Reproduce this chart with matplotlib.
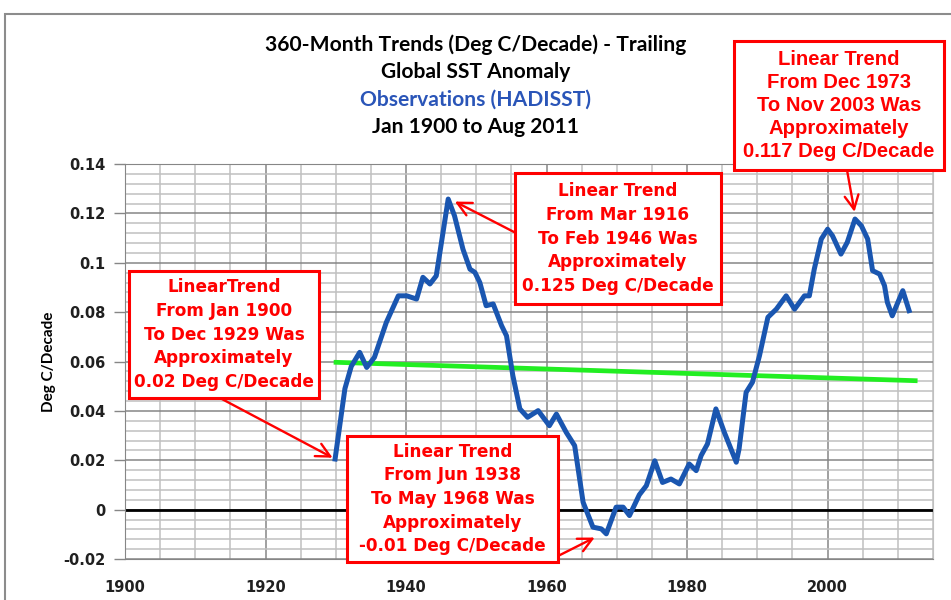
import matplotlib
matplotlib.use("Agg")
import matplotlib.pyplot as plt
from matplotlib.patches import Rectangle
from matplotlib.ticker import MultipleLocator

# 360-month trailing trends (year, deg C / decade)
years = [1929.9, 1931.3, 1932.2, 1933.4, 1934.4, 1935.5, 1937.2, 1938.9, 1940.1, 1941.5,
         1942.4, 1943.4, 1944.3, 1946.0, 1946.9, 1948.1, 1949.1, 1949.8, 1950.5, 1951.4,
         1952.4, 1953.6, 1954.3, 1955.2, 1956.2, 1957.3, 1958.8, 1960.4, 1961.4, 1962.8,
         1964.0, 1965.2, 1966.6, 1967.8, 1968.5, 1969.9, 1970.9, 1971.8, 1973.2, 1974.2,
         1975.4, 1976.5, 1977.7, 1978.9, 1980.3, 1981.3, 1982.0, 1982.9, 1984.1, 1985.3,
         1987.0, 1987.4, 1988.4, 1989.3, 1990.3, 1991.5, 1992.7, 1994.1, 1995.3, 1996.7,
         1997.4, 1998.1, 1999.1, 2000.0, 2000.7, 2001.9, 2002.8, 2003.9, 2004.8, 2005.7,
         2006.4, 2007.4, 2008.1, 2008.5, 2009.2, 2010.7, 2011.6]
trends = [0.0205, 0.049, 0.058, 0.0637, 0.0576, 0.0617, 0.0759, 0.0866, 0.0866, 0.0853,
          0.0941, 0.0914, 0.0947, 0.1258, 0.119, 0.1055, 0.0974, 0.0961, 0.092, 0.0826,
          0.0833, 0.0745, 0.0704, 0.0543, 0.0408, 0.0374, 0.0401, 0.034, 0.0387, 0.0313,
          0.0259, 0.003, -0.0071, -0.0078, -0.0098, 0.001, 0.001, -0.0024, 0.006, 0.0097,
          0.0198, 0.011, 0.0124, 0.0104, 0.0185, 0.0158, 0.0219, 0.0266, 0.0408, 0.0313,
          0.0192, 0.0246, 0.0475, 0.0516, 0.0623, 0.0779, 0.0812, 0.0866, 0.0812, 0.0866,
          0.0866, 0.0974, 0.1096, 0.1136, 0.1109, 0.1035, 0.1083, 0.1177, 0.115, 0.1096,
          0.0968, 0.0954, 0.0907, 0.084, 0.0785, 0.0887, 0.0806]

# linear trend of the trends (green)
fit_years = [1929.7, 2012.8]
fit_vals = [0.0597, 0.0522]

x_ticks = [1900, 1920, 1940, 1960, 1980, 2000]
y_ticks = [-0.02, 0, 0.02, 0.04, 0.06, 0.08, 0.1, 0.12, 0.14]
y_labels = ["-0.02", "0", "0.02", "0.04", "0.06", "0.08", "0.1", "0.12", "0.14"]

title_lines = ["360-Month Trends (Deg C/Decade) - Trailing", "Global SST Anomaly",
               "Observations (HADISST)", "Jan 1900 to Aug 2011"]

notes = [
    "LinearTrend\nFrom Jan 1900\nTo Dec 1929 Was\nApproximately\n0.02 Deg C/Decade",
    "Linear Trend\nFrom Mar 1916\nTo Feb 1946 Was\nApproximately\n0.125 Deg C/Decade",
    "Linear Trend\nFrom Jun 1938\nTo May 1968 Was\nApproximately\n-0.01 Deg C/Decade",
    "Linear Trend\nFrom Dec 1973\nTo Nov 2003 Was\nApproximately\n0.117 Deg C/Decade",
]

W, H = 951, 600
BLUE = "#1a56b0"
RED = "#ff0000"

fig = plt.figure(figsize=(W / 100, H / 100), dpi=100)
fig.patch.set_facecolor("white")

# outer chart frame (runs off the right and bottom edges)
fig.add_artist(Rectangle((5 / W, -0.1), 1.2, (H - 14) / H + 0.1, transform=fig.transFigure,
                         fill=False, edgecolor="#8c8c8c", lw=1.5, zorder=0))

ax = fig.add_axes([125 / W, 41 / H, 808 / W, 395 / H])
ax.set_xlim(1900, 2015)
ax.set_ylim(-0.02, 0.14)

ax.xaxis.set_major_locator(MultipleLocator(20))
ax.xaxis.set_minor_locator(MultipleLocator(5))
ax.set_yticks(y_ticks)
ax.set_yticklabels(y_labels)
ax.yaxis.set_minor_locator(MultipleLocator(0.004))
ax.set_xticks(x_ticks)

ax.grid(which="minor", color="#c0c0c0", lw=1.1)
ax.grid(which="major", color="#868686", lw=1.1)
ax.set_axisbelow(True)

for side in ["left", "bottom", "top"]:
    ax.spines[side].set_color("#868686")
ax.spines["right"].set_color("#c0c0c0")

ax.tick_params(axis="y", which="major", length=8, width=1, color="#868686", pad=6,
               labelsize=10.5)
ax.tick_params(axis="x", which="major", length=0, pad=15, labelsize=10.5)
ax.tick_params(which="minor", length=0)
for lab in ax.get_xticklabels() + ax.get_yticklabels():
    lab.set_fontweight("bold")
    lab.set_color("#202020")

ax.axhline(0, color="black", lw=2, zorder=2)
ax.plot(fit_years, fit_vals, color="#22ee22", lw=3.4, zorder=3, solid_capstyle="butt")
ax.plot(years, trends, color=BLUE, lw=3.6, zorder=4)

ax.set_ylabel("Deg C/Decade", fontsize=11, fontweight="bold", family="Lato")
ax.yaxis.set_label_coords(-69 / 808, 0.5)

# title block
title_y = [45, 72, 100, 127]
title_col = ["black", "black", "#2a55b8", "black"]
for txt, ty, col in zip(title_lines, title_y, title_col):
    fig.text(476 / W, 1 - ty / H, txt, ha="center", va="center", fontsize=15.1,
             fontweight="bold", family="Lato", color=col)

# annotation boxes: (left, top, right, bottom) in pixels from top-left
boxes = [(129, 271, 319, 398), (515, 173, 721, 304), (347, 436, 558, 562), (734, 41, 944, 170)]
fonts = ["DejaVu Sans", "DejaVu Sans", "DejaVu Sans", "Liberation Sans"]
sizes = [12.2, 12.2, 12.2, 14.6]
spacing = [1.41, 1.41, 1.41, 1.27]
# arrow tails (pixels from top-left) and targeted data indices
tails = [(220, 398), (514, 232), (558, 556), (847, 170)]
i_min = trends.index(min(trends))
i_peak46 = trends.index(max(trends[:30]))
i_peak03 = trends.index(max(trends[60:]))
targets = [0, i_peak46, i_min, i_peak03]
tip_shift = [(0, 0), (0.6, -0.0005), (-1.3, -0.001), (0, 0.0018)]

for note, (l, t, r, b), fam, fs, ls, (tx, ty), k, (dx, dy) in zip(
        notes, boxes, fonts, sizes, spacing, tails, targets, tip_shift):
    ax.annotate("", xy=(years[k] + dx, trends[k] + dy), xycoords="data",
                xytext=(tx, H - ty), textcoords="figure pixels",
                arrowprops=dict(arrowstyle="->,head_length=1.0,head_width=0.5",
                                color=RED, lw=1.7, shrinkA=0, shrinkB=2),
                annotation_clip=False, zorder=6)
    fig.add_artist(Rectangle((l / W, 1 - b / H), (r - l) / W, (b - t) / H,
                             transform=fig.transFigure, facecolor="white",
                             edgecolor=RED, lw=2.2, zorder=5))
    fig.text((l + r) / 2 / W, 1 - (t + b) / 2 / H, note, ha="center", va="center",
             fontsize=fs, fontweight="bold", family=fam, color=RED,
             linespacing=ls, zorder=6)

fig.savefig("out.png", dpi=100)
